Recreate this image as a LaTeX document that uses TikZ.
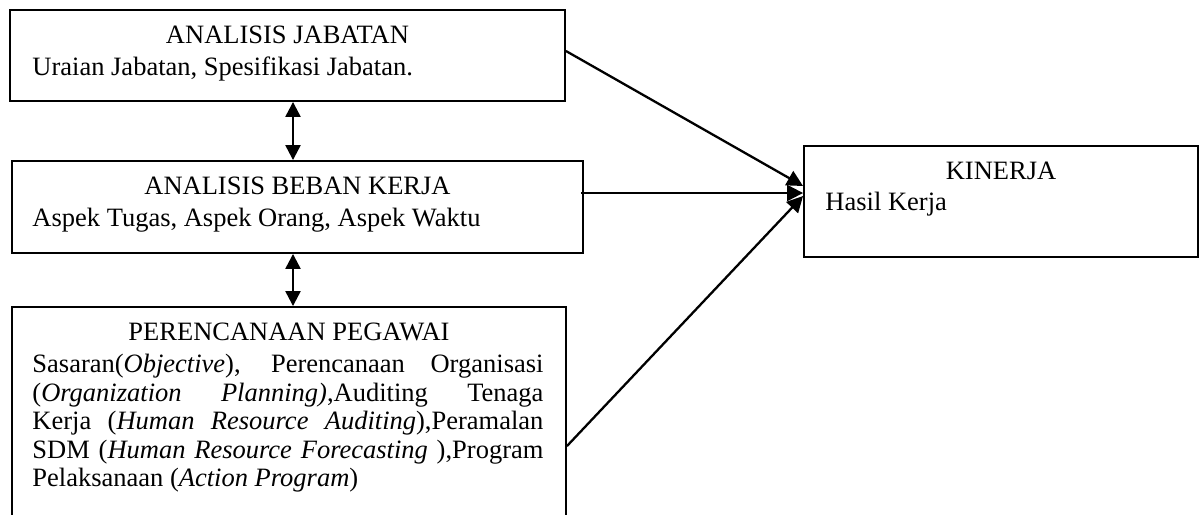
\documentclass[tikz,border=0pt]{standalone}
\usepackage{fontspec}
\setmainfont{Liberation Serif}
\usetikzlibrary{arrows.meta}
\newcommand\teks{\fontsize{13.25pt}{14.25pt}\selectfont}

\begin{document}
\begin{tikzpicture}[x=0.5pt, y=-0.5pt,
  kotak/.style={draw, line width=0.95pt, inner sep=0},
  judul/.style={anchor=base, inner sep=0, font=\teks},
  isi/.style={anchor=base west, inner sep=0, font=\teks},
  panah/.style={line width=1.15pt, -{Triangle[length=8pt,width=8pt]}},
  panahdua/.style={line width=1.15pt, {Triangle[length=7.5pt,width=7.5pt]}-{Triangle[length=7.5pt,width=7.5pt]}}]
\useasboundingbox (0,0) rectangle (1202,514);
\clip (0,0) rectangle (1202,514);
% kotak-kotak
\node[kotak, minimum width=277.5pt, minimum height=45.5pt] (jabatan) at (287.5,55.5) {};
\node[kotak, minimum width=285.5pt, minimum height=46pt] (beban) at (297.5,207) {};
\node[kotak, minimum width=277pt, minimum height=119pt] (pegawai) at (289,426) {};
\node[kotak, minimum width=197pt, minimum height=55.5pt] (kinerja) at (1001,201.5) {};
% isi kotak
\node[judul] (jabatan-j) at ([yshift=-17pt]jabatan.north) {ANALISIS JABATAN};
\node[isi] (jabatan-i) at ([shift={(11.5pt,-33pt)}]jabatan.north west) {Uraian Jabatan, Spesifikasi Jabatan.};
\node[judul] (beban-j) at ([yshift=-17pt]beban.north) {ANALISIS BEBAN KERJA};
\node[isi] (beban-i) at ([shift={(10.5pt,-33pt)}]beban.north west) {Aspek Tugas, Aspek Orang, Aspek Waktu};
\node[judul] (kinerja-j) at ([yshift=-17pt]kinerja.north) {KINERJA};
\node[isi] (kinerja-i) at ([shift={(11pt,-32.5pt)}]kinerja.north west) {Hasil Kerja};
\node[judul] (pegawai-j) at ([yshift=-17pt]pegawai.north) {PERENCANAAN PEGAWAI};
\node[anchor=north west, inner sep=0, font=\teks, align=left] (pegawai-i) at ([shift={(10.5pt,-24pt)}]pegawai.north west)
  {\makebox[255.5pt][s]{Sasaran(\textit{Objective}), Perencanaan Organisasi}\\
   \makebox[255.5pt][s]{(\textit{Organization Planning)},Auditing Tenaga}\\
   \makebox[255.5pt][s]{Kerja (\textit{Human Resource Auditing}),Peramalan}\\
   \makebox[255.5pt][s]{SDM (\textit{Human Resource Forecasting} ),Program}\\
   Pelaksanaan (\textit{Action Program})};
% panah
\draw[panahdua] ([xshift=2.75pt]jabatan.south) -- ([xshift=-2.25pt]beban.north);
\draw[panahdua] ([xshift=-2.25pt]beban.south) -- ([xshift=2pt]pegawai.north);
\draw[panah] ([yshift=2.25pt]jabatan.east) -- ([yshift=7.75pt]kinerja.west);
\draw[panah] ([xshift=-1.5pt,yshift=7pt]beban.east) -- ([yshift=4.25pt]kinerja.west);
\draw[panah] ([yshift=-70pt]pegawai.north east) -- ([yshift=2.75pt]kinerja.west);
\end{tikzpicture}
\end{document}
